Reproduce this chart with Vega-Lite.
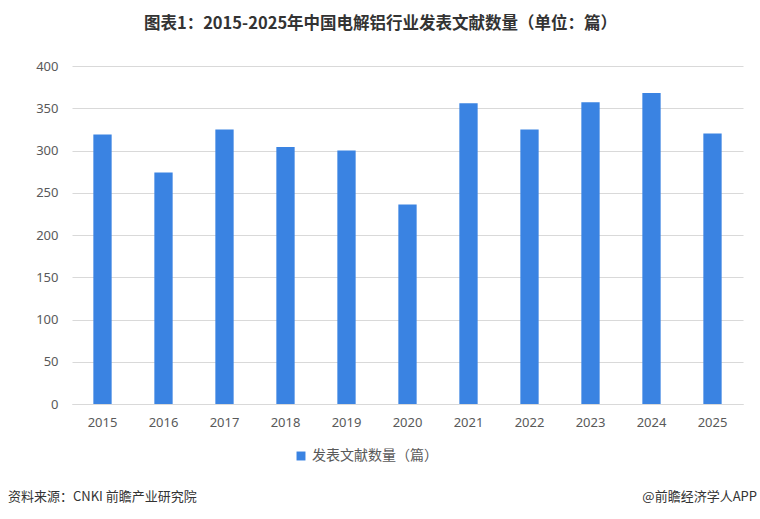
{
  "$schema": "https://vega.github.io/schema/vega-lite/v6.json",
  "width": 671,
  "height": 338,
  "autosize": {"type": "none"},
  "padding": {"left": 72, "top": 66, "right": 17, "bottom": 115},
  "background": "white",
  "title": {
    "text": "图表1：2015-2025年中国电解铝行业发表文献数量（单位：篇）",
    "anchor": "middle",
    "dx": -27,
    "offset": 28,
    "fontSize": 16.5,
    "font": "Noto Sans CJK SC",
    "fontWeight": "bold",
    "color": "#333333"
  },
  "config": {
    "view": {"stroke": null},
    "font": "Noto Sans CJK SC"
  },
  "layer": [
    {
      "data": {
        "values": [
          {"year": "2015", "count": 319, "series": "发表文献数量（篇）"},
          {"year": "2016", "count": 274, "series": "发表文献数量（篇）"},
          {"year": "2017", "count": 325, "series": "发表文献数量（篇）"},
          {"year": "2018", "count": 304, "series": "发表文献数量（篇）"},
          {"year": "2019", "count": 300, "series": "发表文献数量（篇）"},
          {"year": "2020", "count": 236, "series": "发表文献数量（篇）"},
          {"year": "2021", "count": 356, "series": "发表文献数量（篇）"},
          {"year": "2022", "count": 325, "series": "发表文献数量（篇）"},
          {"year": "2023", "count": 357, "series": "发表文献数量（篇）"},
          {"year": "2024", "count": 368, "series": "发表文献数量（篇）"},
          {"year": "2025", "count": 320, "series": "发表文献数量（篇）"}
        ]
      },
      "mark": {"type": "bar"},
      "encoding": {
        "x": {
          "field": "year",
          "type": "ordinal",
          "scale": {"paddingInner": 0.7, "paddingOuter": 0.35},
          "axis": {
            "title": null,
            "labelAngle": 0,
            "ticks": false,
            "domainColor": "#d9d9d9",
            "labelColor": "#595959",
            "labelFont": "Noto Sans",
            "labelFontSize": 13,
            "labelPadding": 12
          }
        },
        "y": {
          "field": "count",
          "type": "quantitative",
          "scale": {"domain": [0, 400]},
          "axis": {
            "title": null,
            "values": [0, 50, 100, 150, 200, 250, 300, 350, 400],
            "ticks": false,
            "domain": false,
            "gridColor": "#d9d9d9",
            "labelColor": "#595959",
            "labelFont": "Noto Sans",
            "labelFontSize": 13,
            "labelPadding": 14
          }
        },
        "color": {
          "field": "series",
          "type": "nominal",
          "scale": {"range": ["#3a83e2"]},
          "legend": {
            "title": null,
            "orient": "none",
            "legendX": 222,
            "legendY": 383,
            "direction": "horizontal",
            "symbolType": "square",
            "symbolSize": 80,
            "labelFontSize": 14,
            "labelColor": "#595959",
            "labelFont": "Noto Sans CJK SC"
          }
        }
      }
    },
    {
      "data": {"values": [{"label": "资料来源：CNKI 前瞻产业研究院"}]},
      "mark": {"type": "text", "align": "left", "baseline": "middle", "fontSize": 13, "color": "#333333", "font": "Noto Sans CJK SC"},
      "encoding": {
        "text": {"field": "label"},
        "x": {"value": -64},
        "y": {"value": 431}
      }
    },
    {
      "data": {"values": [{"label": "@前瞻经济学人APP"}]},
      "mark": {"type": "text", "align": "right", "baseline": "middle", "fontSize": 13, "color": "#333333", "font": "Noto Sans CJK SC"},
      "encoding": {
        "text": {"field": "label"},
        "x": {"value": 685},
        "y": {"value": 431}
      }
    }
  ]
}
